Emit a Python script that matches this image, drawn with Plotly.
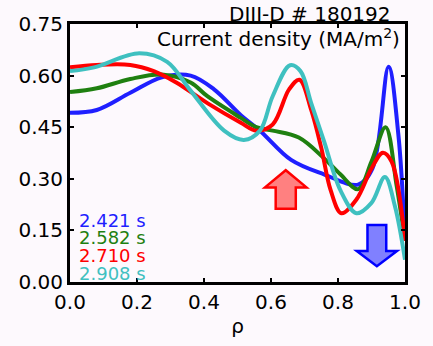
import plotly.graph_objects as go

# Current density profiles j(rho) at four times, DIII-D shot 180192
rho_2421 = [0.0, 0.08, 0.18, 0.274, 0.36, 0.43, 0.51, 0.567, 0.66, 0.758, 0.86, 0.903, 0.951, 0.98, 1.0]
j_2421 = [0.492, 0.50, 0.55, 0.595, 0.60, 0.56, 0.485, 0.44, 0.355, 0.313, 0.283, 0.33, 0.626, 0.43, 0.12]

rho_2582 = [0.0, 0.08, 0.18, 0.274, 0.36, 0.41, 0.51, 0.556, 0.605, 0.683, 0.758, 0.807, 0.86, 0.9, 0.942, 0.975, 1.0]
j_2582 = [0.552, 0.563, 0.59, 0.603, 0.58, 0.54, 0.477, 0.45, 0.44, 0.42, 0.36, 0.313, 0.27, 0.35, 0.45, 0.28, 0.12]

rho_2710 = [0.0, 0.08, 0.18, 0.25, 0.317, 0.41, 0.51, 0.556, 0.605, 0.654, 0.685, 0.72, 0.75, 0.778,
            0.81, 0.855, 0.9, 0.934, 0.96, 1.0]
j_2710 = [0.624, 0.631, 0.631, 0.613, 0.58, 0.52, 0.463, 0.44, 0.458, 0.56, 0.588, 0.50, 0.39, 0.267,
          0.20, 0.24, 0.33, 0.376, 0.35, 0.12]

rho_2908 = [0.0, 0.072, 0.207, 0.29, 0.357, 0.46, 0.519, 0.567, 0.605, 0.657, 0.688, 0.72, 0.758,
            0.807, 0.855, 0.9, 0.94, 0.97, 1.0]
j_2908 = [0.613, 0.624, 0.665, 0.64, 0.56, 0.44, 0.413, 0.44, 0.54, 0.63, 0.613, 0.52, 0.41,
          0.267, 0.20, 0.23, 0.305, 0.22, 0.065]

times = ["2.421 s", "2.582 s", "2.710 s", "2.908 s"]
colors = ["#1f1fff", "#1f8010", "#ff0000", "#3fc0c0"]
profiles = [(rho_2421, j_2421), (rho_2582, j_2582), (rho_2710, j_2710), (rho_2908, j_2908)]

y_ticks = [0.0, 0.15, 0.30, 0.45, 0.60, 0.75]
x_ticks = [0.0, 0.2, 0.4, 0.6, 0.8, 1.0]

FONT = "DejaVu Sans"
BG = "#fdf9fd"

fig = go.Figure()
for (r, j), name, c in zip(profiles, times, colors):
    fig.add_trace(go.Scatter(x=r, y=j, mode="lines", name=name,
                             line=dict(color=c, width=4, shape="spline", smoothing=1.0)))

# time labels, stacked in the lower-left corner
for k, (name, c) in enumerate(zip(times, colors)):
    fig.add_annotation(xref="paper", yref="paper", x=0.02, y=0.24 - k * 0.069,
                       text=name, showarrow=False, xanchor="left", yanchor="middle",
                       font=dict(family=FONT, size=18, color=c))

# block arrows: red up (core) and blue down (edge)
def block_arrow(xc, half_w, shaft_half, y_tail, y_base, y_tip):
    return (f"M {xc - shaft_half} {y_tail} L {xc - shaft_half} {y_base} L {xc - half_w} {y_base} "
            f"L {xc} {y_tip} L {xc + half_w} {y_base} L {xc + shaft_half} {y_base} "
            f"L {xc + shaft_half} {y_tail} Z")

fig.add_shape(type="path", xref="x", yref="y",
              path=block_arrow(0.644, 0.062, 0.03, 0.213, 0.275, 0.325),
              fillcolor="#ff8080", line=dict(color="#ff0000", width=2.5))
fig.add_shape(type="path", xref="x", yref="y",
              path=block_arrow(0.916, 0.06, 0.028, 0.166, 0.09, 0.046),
              fillcolor="#8080ff", line=dict(color="#0000ff", width=2.5))

fig.add_annotation(xref="paper", yref="paper", x=0.965, y=1.04, text="DIII-D # 180192",
                   showarrow=False, xanchor="right", yanchor="middle",
                   font=dict(family=FONT, size=20, color="black"))
fig.add_annotation(xref="paper", yref="paper", x=0.99, y=0.945,
                   text="Current density (MA/m<sup>2</sup>)",
                   showarrow=False, xanchor="right", yanchor="middle",
                   font=dict(family=FONT, size=20, color="black"))

axis_common = dict(showline=True, linewidth=3, linecolor="black", mirror="allticks",
                   ticks="inside", ticklen=4, tickwidth=1.5, tickcolor="black",
                   showgrid=False, zeroline=False,
                   tickfont=dict(family=FONT, size=20, color="black"))

fig.update_xaxes(range=[0, 1.0], tickvals=x_ticks, ticktext=[f"{v:.1f}" for v in x_ticks],
                 title=dict(text="ρ", font=dict(family=FONT, size=20, color="black"), standoff=6),
                 **axis_common)
fig.update_yaxes(range=[0, 0.75], tickvals=y_ticks, ticktext=[f"{v:.2f}" for v in y_ticks],
                 **axis_common)

fig.update_layout(width=433, height=346, showlegend=False,
                  margin=dict(l=70, r=16, t=23, b=48),
                  paper_bgcolor=BG, plot_bgcolor=BG,
                  font=dict(family=FONT))

fig.write_html("out.html")
